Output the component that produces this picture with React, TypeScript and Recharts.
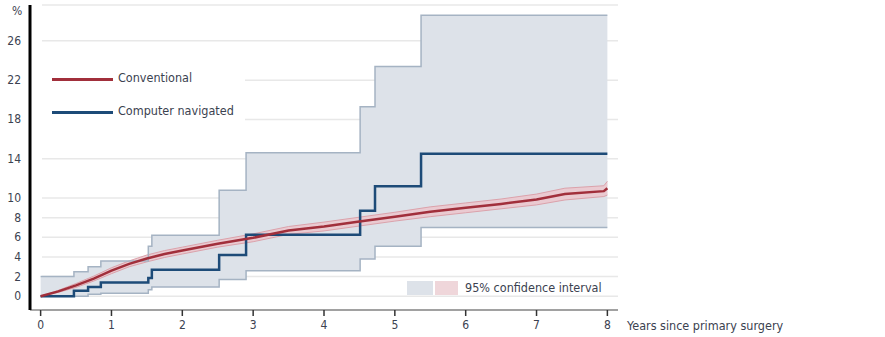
import React from "react";
import {
  ComposedChart,
  Area,
  Line,
  XAxis,
  YAxis,
  CartesianGrid,
} from "recharts";

// computer navigated: Kaplan-Meier style steps + 95% CI
const navTimes = [0, 0.47, 0.67, 0.85, 1.52, 1.57, 2.52, 2.9, 4.51, 4.72, 5.37, 8];
const navRisk = [0, 0.55, 0.95, 1.4, 1.85, 2.7, 4.2, 6.25, 8.7, 11.2, 14.5, 14.5];
const navLower = [0, 0, 0.2, 0.3, 0.65, 0.95, 1.7, 2.6, 3.8, 5.1, 7.0, 7.0];
const navUpper = [2.0, 2.5, 3.0, 3.6, 5.1, 6.2, 10.8, 14.6, 19.3, 23.4, 28.6, 28.6];

// conventional
const convTimes = [0, 0.25, 0.5, 0.75, 1, 1.25, 1.5, 1.75, 2, 2.5, 3, 3.5, 4, 4.5, 5, 5.5, 6, 6.5, 7, 7.4, 7.95, 8];
const convRisk = [0, 0.5, 1.1, 1.8, 2.6, 3.3, 3.85, 4.3, 4.65, 5.35, 5.95, 6.7, 7.1, 7.6, 8.1, 8.6, 9.0, 9.4, 9.85, 10.4, 10.7, 11.0];
const convLower = [0, 0.4, 0.9, 1.55, 2.3, 3.0, 3.5, 3.95, 4.3, 5.0, 5.55, 6.3, 6.65, 7.15, 7.65, 8.1, 8.5, 8.9, 9.3, 9.8, 10.15, 10.3];
const convUpper = [0, 0.6, 1.3, 2.05, 2.9, 3.6, 4.2, 4.65, 5.0, 5.7, 6.35, 7.1, 7.55, 8.05, 8.55, 9.1, 9.5, 9.9, 10.4, 11.0, 11.25, 11.7];

const xTicks = [0, 1, 2, 3, 4, 5, 6, 7, 8];
const yTicks = [0, 2, 4, 6, 8, 10, 14, 18, 22, 26];

const navData = navTimes.map((t, i) => ({
  t,
  risk: navRisk[i],
  lower: navLower[i],
  upper: navUpper[i],
  band: [navLower[i], navUpper[i]],
}));

const convData = convTimes.map((t, i) => ({
  t,
  risk: convRisk[i],
  band: [convLower[i], convUpper[i]],
}));

const FONT = '"Liberation Sans Narrow", "DejaVu Sans Condensed", "Open Sans", sans-serif';
const TEXT = "#3b4250";
const RED = "#a12f3b";
const BLUE = "#1d4b78";
const GREY_FILL = "#dde2e9";
const GREY_EDGE = "#a5b3c3";
const PINK = "#ebc8ce";

const YTick = (props: any) => {
  const { y, payload } = props;
  return (
    <text x={21} y={y} dy={4} textAnchor="end" fontSize={12} fill={TEXT} fontFamily={FONT}>
      {payload.value}
    </text>
  );
};

export default function App() {
  return (
    <div style={{ position: "absolute", left: 0, top: 0, width: 885, height: 337, background: "#fff" }}>
      <ComposedChart
        width={885}
        height={337}
        margin={{ top: 5, right: 267, bottom: 0, left: 0 }}
      >
        <CartesianGrid
          horizontal
          vertical={false}
          x={42}
          width={576}
          stroke="#e8e8e8"
          strokeWidth={1.5}
        />
        <XAxis
          type="number"
          dataKey="t"
          domain={[-0.15, 8.15]}
          ticks={xTicks}
          interval={0}
          allowDataOverflow
          height={27}
          stroke="#555"
          tickLine={{ stroke: "#333", strokeWidth: 1.5 }}
          tickSize={6}
          tick={{ fontSize: 12, fill: TEXT, fontFamily: FONT, dy: 2 }}
          label={{
            value: "Years since primary surgery",
            position: "right",
            offset: 9,
            fontSize: 12.5,
            fill: TEXT,
            fontFamily: FONT,
            dy: 2,
          }}
        />
        <YAxis
          type="number"
          domain={[-1.4, 29.65]}
          ticks={yTicks}
          interval={0}
          allowDataOverflow
          width={30}
          axisLine={{ stroke: "#000", strokeWidth: 3 }}
          tickLine={false}
          tick={<YTick />}
        />
        <Area
          data={navData}
          dataKey="band"
          type="stepAfter"
          fill={GREY_FILL}
          fillOpacity={1}
          stroke="none"
          isAnimationActive={false}
        />
        <Line data={navData} dataKey="upper" type="stepAfter" stroke={GREY_EDGE} strokeWidth={1.5} dot={false} isAnimationActive={false} />
        <Line data={navData} dataKey="lower" type="stepAfter" stroke={GREY_EDGE} strokeWidth={1.5} dot={false} isAnimationActive={false} />
        <Line data={navData} dataKey="risk" type="stepAfter" stroke={BLUE} strokeWidth={2.5} dot={false} isAnimationActive={false} />
        <Area
          data={convData}
          dataKey="band"
          type="linear"
          fill={PINK}
          fillOpacity={0.9}
          stroke="#dba2ab"
          strokeWidth={1}
          isAnimationActive={false}
        />
        <Line data={convData} dataKey="risk" type="linear" stroke={RED} strokeWidth={2.5} dot={false} isAnimationActive={false} />
      </ComposedChart>

      <div style={{ position: "absolute", left: 12, top: 4, fontSize: 12, color: TEXT, fontFamily: FONT }}>%</div>

      <div
        style={{
          position: "absolute",
          left: 42,
          top: 64,
          width: 203,
          height: 64,
          background: "#fff",
          fontFamily: FONT,
          fontSize: 12.5,
          color: TEXT,
        }}
      >
        <div style={{ position: "absolute", left: 10, top: 14, width: 61, height: 3, background: RED }} />
        <div style={{ position: "absolute", left: 76, top: 6 }}>Conventional</div>
        <div style={{ position: "absolute", left: 10, top: 47, width: 61, height: 3, background: BLUE }} />
        <div style={{ position: "absolute", left: 76, top: 39 }}>Computer navigated</div>
      </div>

      <div style={{ position: "absolute", left: 407, top: 281, width: 26, height: 14, background: GREY_FILL }} />
      <div style={{ position: "absolute", left: 435, top: 281, width: 23, height: 14, background: "#efd6da" }} />
      <div
        style={{
          position: "absolute",
          left: 465,
          top: 280,
          fontFamily: FONT,
          fontSize: 12.5,
          color: TEXT,
        }}
      >
        95% confidence interval
      </div>
    </div>
  );
}
